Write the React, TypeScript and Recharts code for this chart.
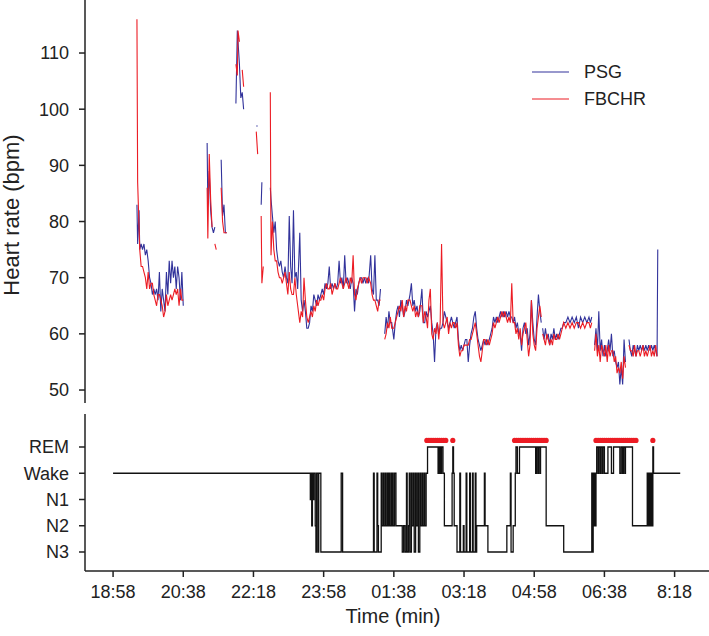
import React from "react"
import { LineChart, ComposedChart, Line, Scatter, XAxis, YAxis, Legend } from "recharts"

const FONT = '"Liberation Sans", Arial, Helvetica, sans-serif'
const INK = "#222"
const PSG_COLOR = "#32339b"
const FBCHR_COLOR = "#ec1c24"

// minutes after 18:58
const xDomain = [-40, 849]
const xTickValues = [0, 100, 200, 300, 400, 500, 600, 700, 800]
const xTickLabels = ["18:58", "20:38", "22:18", "23:58", "01:38", "03:18", "04:58", "06:38", "8:18"]

const hrTicks = [50, 60, 70, 80, 90, 100, 110]

// heart rate samples (null = gap in recording)
const hrTimes = [
  // first block
  34, 35, 37, 38, 40, 42, 44, 46, 48, 50,
  52, 54, 56, 58, 60, 62, 64, 66, 68, 70,
  72, 74, 76, 78, 80, 82, 84, 86, 88, 90,
  92, 94, 96, 98, 100, 105,
  // short bursts
  134, 135, 137, 139, 141, 143, 145, 147, 150, 154, 156, 158, 160, 162, 166,
  175, 177, 178, 180, 182, 184, 186, 190,
  204, 206, 208,
  211, 212, 214, 216,
  // main night
  224, 225, 227, 229, 231, 233, 235, 237, 239, 241,
  243, 245, 247, 249, 251, 253, 255, 257, 259, 261,
  263, 266, 268, 270, 272, 274, 276, 278, 280, 282,
  284, 286, 288, 290, 292, 294, 296, 298, 300, 302,
  304, 306, 308, 310, 312, 314, 316, 318, 320, 322,
  324, 326, 328, 330, 332, 334, 336, 338, 340, 342,
  344, 346, 348, 350, 352, 354, 356, 358, 360, 362,
  364, 367, 369, 371, 373, 375, 377, 379, 381, 383,
  387, 389, 391, 393, 395, 397, 400, 402, 404, 406,
  408, 410, 412, 414, 416, 418, 420, 423, 425, 427,
  429, 431, 433, 435, 437, 440, 442, 444, 446, 448,
  450, 452, 454, 456, 458, 460, 462, 464, 466, 468,
  470, 472, 474, 476, 478, 480, 482, 484, 486, 488,
  490, 492, 494, 496, 498, 500, 502, 504, 506, 508,
  510, 512, 514, 516, 518, 520, 522, 524, 526, 528,
  530, 532, 534, 536, 538, 540, 542, 544, 546, 548,
  550, 552, 554, 556, 558, 560, 562, 564, 566, 568,
  570, 572, 574, 576, 578, 580, 582, 584, 586, 588,
  590, 592, 594, 596, 598, 600, 602, 604, 606, 608,
  610, 611,
  612, 614, 616, 618, 620, 622, 624, 626, 628, 630,
  632, 634, 636, 638, 640, 642, 645, 648, 651, 654,
  657, 660, 663, 666, 669, 672, 675, 678, 680, 682,
  684,
  686, 688, 690, 692, 694, 696, 698, 700, 702, 704,
  706, 708, 710, 712, 714, 716, 718, 720, 722, 724,
  726, 728, 730, 733,
  735, 737, 739, 741, 743, 745, 747, 749, 751, 753,
  755, 757, 759, 761, 763, 765, 767, 769, 771, 773,
  775, 776,
]

const psgHr = [
  83, 76, 82, 75, 76, 75, 76, 74, 75, 73,
  70, 69, 67, 68, 67, 68, 66, 71, 64, 68,
  66, 64, 71, 67, 73, 69, 73, 70, 72, 68,
  72, 70, 66, 71, 65, null,
  94, 83, 89, 82, 79, 78, 79, null, null, 91, 81, 83, 78, 78, null,
  101, 114, 112, 108, 102, 103, 100, null,
  97, 97, null,
  83, 87, null, null,
  86, 84, 81, 78, 80, 75, 73, 72, 73, 71,
  70, 72, 70, 69, 81, 72, 69, 82, 70, 71,
  68, 78, 66, 64, 66, 64, 61, 61, 62, 65,
  64, 67, 66, 65, 67, 66, 67, 68, 67, 69,
  68, 69, 72, 68, 69, 68, 69, 68, 69, 73,
  69, 70, 68, 74, 69, 70, 69, 68, 70, 69,
  64, 68, 67, 69, 70, 70, 69, 70, 69, 70,
  69, 74, 68, 67, 74, 66, 66, 65, 68, null,
  60, 63, 61, 64, 62, 62, 59, 62, 64, 65,
  63, 66, 65, 63, 64, 66, 65, 67, 69, 65,
  66, 64, 65, 63, 64, 68, 62, 62, 64, 63,
  64, 65, 62, 60, 55, 61, 62, 60, 61, 61,
  62, 64, 63, 62, 61, 62, 63, 62, 61, 62,
  63, 59, 57, 58, 57, 58, 59, 59, 55, 58,
  60, 61, 63, 64, 61, 59, 58, 57, 58, 59,
  58, 59, 58, 59, 60, 61, 63, 62, 63, 62,
  63, 64, 63, 64, 63, 64, 63, 64, 63, 63,
  62, 63, 61, 62, 60, 60, 57, 61, 62, 60,
  61, 58, 60, 66, 62, 59, 58, 63, 67, 64,
  62, null,
  61, 59, 61, 59, 60, 58, 60, 59, 61, 59,
  60, 59, 60, 61, 61, 62, 62, 63, 62, 63,
  62, 63, 61, 63, 62, 63, 62, 63, 62, 63,
  null,
  58, 61, 57, 64, 57, 59, 56, 58, 56, 57,
  59, 57, 60, 56, 57, 55, 54, 55, 51, 54,
  51, 59, 55, null,
  59, 57, 56, 58, 57, 56, 58, 57, 58, 57,
  58, 57, 58, 57, 58, 57, 58, 57, 58, 57,
  56, 75,
]

const fbchrHr = [
  116, 87, 79, 75, 72, 72, 71, 70, 68, 71,
  68, 69, 69, 67, 66, 65, 67, 67, 66, 65,
  63, 64, 67, 65, 66, 67, 66, 67, 68, 67,
  68, 65, 68, 66, 66, null,
  86, 77, 92, 84, 79, null, 76, 75, null, 86, 80, 78, 78, 78, null,
  108, 106, 114, 112, null, 107, 104, null,
  96, 92, null,
  81, 69, 72, null,
  103, 74, 80, 75, 73, 73, 71, 70, 70, 69,
  70, 71, 69, 67, 71, 68, 67, 67, 70, 67,
  65, 62, 64, 63, 70, 66, 63, 62, 63, 64,
  63, 65, 64, 66, 65, 66, 66, 67, 66, 68,
  69, 68, 68, 69, 67, 68, 69, 68, 68, 69,
  70, 69, 68, 69, 70, 69, 68, 70, 69, 74,
  67, 66, 68, 69, 70, 69, 70, 70, 70, 69,
  70, 69, 67, 66, 66, 65, 64, 66, 66, null,
  59, 60, 62, 61, 63, 61, 61, 62, 63, 64,
  65, 64, 66, 63, 65, 64, 66, 66, 65, 64,
  65, 63, 64, 63, 65, 65, 62, 64, 63, 61,
  66, 68, 60, 59, 61, 60, 62, 59, 62, 76,
  62, 61, 62, 63, 60, 62, 61, 62, 62, 61,
  62, 58, 56, 57, 57, 58, 58, 58, 58, 59,
  59, 60, 61, 62, 60, 58, 56, 55, 57, 59,
  59, 58, 59, 58, 59, 60, 62, 61, 62, 63,
  62, 63, 64, 63, 64, 63, 62, 63, 62, 69,
  62, 62, 60, 61, 59, 61, 58, 60, 61, 62,
  59, 56, 58, 66, 60, 58, 57, 61, 63, 65,
  63, null,
  60, 59, 58, 60, 59, 58, 59, 58, 60, 59,
  59, 60, 59, 60, 61, 62, 61, 62, 61, 62,
  61, 62, 62, 61, 62, 61, 62, 62, 61, 62,
  null,
  57, 60, 56, 58, 55, 58, 57, 56, 58, 55,
  58, 56, 57, 57, 55, 56, 53, 54, 53, 55,
  52, 56, 54, null,
  58, 57, 57, 56, 58, 56, 57, 57, 56, 57,
  58, 56, 57, 56, 57, 58, 56, 57, 56, 58,
  56, null,
]

// hypnogram: 1 = N3, 2 = N2, 3 = N1, 4 = Wake, 5 = REM
const stageNames = ["N3", "N2", "N1", "Wake", "REM"]
const stageTimes = [
  0, 281, 282, 283, 284, 285, 286, 288, 289, 290,
  292, 293, 296, 325, 327, 371, 372, 376, 377, 378,
  382, 383, 385, 386, 388, 389, 391, 392, 393, 394,
  396, 397, 398, 399, 401, 403, 412, 414, 416, 418,
  419, 421, 422, 423, 425, 426, 428, 429, 431, 432,
  434, 435, 437, 438, 440, 441, 443, 444, 446, 448,
  463, 464, 465, 466, 467, 468, 470, 472, 483, 484,
  485, 486, 490, 494, 495, 499, 500, 503, 504, 508,
  509, 512, 513, 516, 517, 518, 529, 530, 534, 561,
  566, 567, 570, 573, 574, 576, 579, 602, 603, 605,
  606, 608, 609, 617, 642, 682, 683, 684, 685, 686,
  687, 688, 689, 691, 692, 694, 695, 697, 698, 700,
  705, 710, 713, 722, 724, 726, 727, 729, 730, 740,
  761, 762, 763, 764, 765, 766, 767, 768, 769, 770,
  808,
]
const stageValues = [
  4, 3, 4, 2, 4, 3, 4, 2, 1, 4,
  1, 4, 1, 4, 1, 4, 1, 4, 2, 1,
  4, 2, 4, 2, 4, 2, 4, 2, 4, 2,
  4, 2, 4, 2, 4, 2, 1, 2, 1, 4,
  1, 2, 4, 1, 4, 2, 4, 1, 4, 2,
  4, 1, 4, 2, 4, 2, 4, 2, 4, 5,
  4, 5, 4, 5, 4, 5, 4, 2, 4, 5,
  4, 2, 1, 4, 1, 2, 1, 4, 1, 4,
  1, 4, 1, 4, 1, 2, 4, 2, 1, 2,
  4, 1, 2, 4, 5, 4, 5, 4, 5, 4,
  5, 4, 5, 2, 1, 4, 1, 4, 2, 4,
  2, 4, 5, 4, 5, 4, 5, 4, 5, 4,
  5, 4, 5, 4, 5, 4, 5, 4, 5, 2,
  4, 2, 4, 2, 4, 2, 4, 2, 5, 4,
  4,
]

// epochs flagged as REM by FBCHR, drawn just above the REM row
const remFlagLevel = 5.25
const remFlagTimes = [
  447, 450, 453, 456, 459, 462, 465, 468, 471, 474, 484,
  572, 575, 578, 581, 584, 587, 590, 593, 596, 599, 602, 605, 608, 611, 614, 617,
  688, 691, 694, 697, 700, 703, 706, 709, 712, 715, 718, 721, 724, 727, 730, 733, 736, 739, 742, 745,
  769,
]

const hrData = hrTimes.map((t, i) => ({ t, psg: psgHr[i], fbchr: fbchrHr[i] }))
const hypnoData = stageTimes.map((t, i) => ({ t, y: stageValues[i] }))
const remData = remFlagTimes.map((t) => ({ t, y: remFlagLevel }))

const legendItems = [
  { name: "PSG", color: PSG_COLOR },
  { name: "FBCHR", color: FBCHR_COLOR },
]

const tickStyle = { fill: INK, fontSize: 18, fontFamily: FONT }
const axisStroke = { stroke: INK, strokeWidth: 1.5 }

function HrLegend() {
  return (
    <div style={{ fontFamily: FONT, fontSize: 18, color: INK }}>
      {legendItems.map((item) => (
        <div key={item.name} style={{ display: "flex", alignItems: "center", height: 27 }}>
          <svg width={37} height={4}>
            <line x1={0} y1={2} x2={37} y2={2} stroke={item.color} strokeWidth={1.2} />
          </svg>
          <span style={{ marginLeft: 15 }}>{item.name}</span>
        </div>
      ))}
    </div>
  )
}

function HrAxisTitle() {
  return (
    <text x={19} y={215} transform="rotate(-90 19 215)" textAnchor="middle" fontSize={22} fontFamily={FONT} fill={INK}>
      Heart rate (bpm)
    </text>
  )
}

function RemDot(props: any) {
  return <circle cx={props.cx} cy={props.cy} r={2.6} fill={FBCHR_COLOR} />
}

export default function App() {
  return (
    <div style={{ position: "absolute", left: 0, top: 0, width: 709, height: 636, background: "#fff" }}>
      <LineChart width={709} height={404} data={hrData} margin={{ top: 0, right: 0, bottom: 1, left: 0 }}>
        <XAxis type="number" dataKey="t" domain={xDomain} allowDataOverflow hide />
        <YAxis
          type="number"
          domain={[47.69, 119.44]}
          allowDataOverflow
          ticks={hrTicks}
          width={85}
          tickSize={6}
          tickMargin={10}
          axisLine={axisStroke}
          tickLine={axisStroke}
          tick={tickStyle}
          label={<HrAxisTitle />}
        />
        <Legend
          layout="vertical"
          align="center"
          verticalAlign="middle"
          wrapperStyle={{ left: 532, top: 58.5, width: "auto", height: "auto" }}
          content={<HrLegend />}
        />
        <Line dataKey="psg" stroke={PSG_COLOR} strokeWidth={1.1} dot={false} isAnimationActive={false} />
        <Line dataKey="fbchr" stroke={FBCHR_COLOR} strokeWidth={1.1} dot={false} isAnimationActive={false} />
      </LineChart>
      <ComposedChart width={709} height={232} margin={{ top: 10, right: 0, bottom: 0, left: 0 }}>
        <XAxis
          type="number"
          dataKey="t"
          domain={xDomain}
          allowDataOverflow
          ticks={xTickValues}
          tickFormatter={(v: number) => xTickLabels[xTickValues.indexOf(v)]}
          height={65}
          tickSize={6}
          tickMargin={8}
          axisLine={axisStroke}
          tickLine={axisStroke}
          tick={tickStyle}
          label={{ value: "Time (min)", position: "insideBottom", offset: 13, dx: -4, fontSize: 20, fill: INK, fontFamily: FONT }}
        />
        <YAxis
          type="number"
          dataKey="y"
          domain={[0.276, 6.257]}
          allowDataOverflow
          ticks={[1, 2, 3, 4, 5]}
          tickFormatter={(v: number) => stageNames[v - 1]}
          width={85}
          tickSize={6}
          tickMargin={10}
          axisLine={axisStroke}
          tickLine={axisStroke}
          tick={tickStyle}
        />
        <Line data={hypnoData} dataKey="y" type="stepAfter" stroke="#111" strokeWidth={1.3} dot={false} isAnimationActive={false} />
        <Scatter data={remData} dataKey="y" shape={<RemDot />} isAnimationActive={false} />
      </ComposedChart>
    </div>
  )
}
